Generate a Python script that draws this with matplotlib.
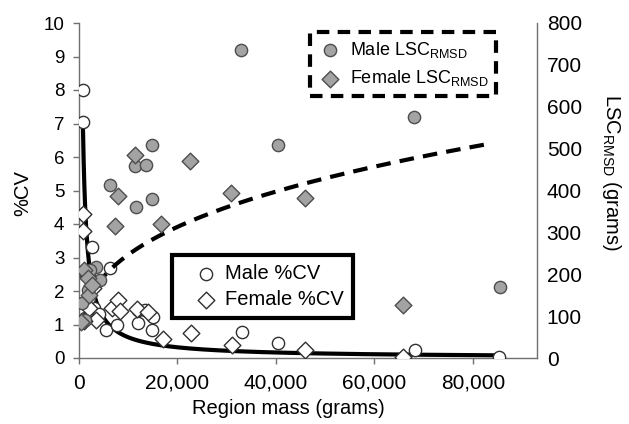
import numpy as np
import matplotlib
matplotlib.use("Agg")
import matplotlib.pyplot as plt
from matplotlib.ticker import FuncFormatter

plt.rcParams["font.family"] = ["Liberation Sans", "DejaVu Sans"]
plt.rcParams["mathtext.fontset"] = "custom"
plt.rcParams["mathtext.rm"] = "Liberation Sans"
plt.rcParams["mathtext.it"] = "Liberation Sans"

# %CV (left axis)
male_cv_mass = [900, 900, 2600, 6300, 5500, 12000, 13400, 15000, 12000, 14800,
                33000, 40400, 68300, 85200, 3000, 4000, 2000, 1200, 7800]
male_cv = [8.0, 7.05, 3.3, 2.7, 0.84, 1.43, 1.43, 1.22, 1.04, 0.84,
           0.78, 0.45, 0.24, 0.03, 1.5, 1.3, 1.8, 1.2, 1.0]
female_cv_mass = [900, 900, 1800, 2000, 3400, 6700, 7900, 8300, 11700, 14000,
                  17000, 22700, 31000, 45800, 65700, 1000, 2800]
female_cv = [4.3, 3.8, 2.45, 1.49, 1.13, 1.49, 1.73, 1.4, 1.46, 1.37,
             0.57, 0.75, 0.39, 0.24, 0.03, 1.1, 2.1]

# LSC_RMSD in grams (right axis)
male_lsc_mass = [32900, 14800, 11400, 13600, 6300, 11600, 14800, 40400, 68100, 85400,
                 3400, 4300, 1800, 600, 2200, 1200]
male_lsc = [736, 509, 458, 461, 413, 361, 380, 509, 576, 170,
            217, 186, 162, 131, 210, 91]
female_lsc_mass = [11400, 22500, 7900, 7300, 16600, 30800, 45800, 65700,
                   1000, 1800, 2000, 400, 2600]
female_lsc = [485, 470, 387, 315, 320, 394, 382, 127, 210, 191, 150, 86, 174]

# power trendlines y = a * x^b
cv_fit = (4085, -0.955, 800, 85000)
lsc_fit = (10.38, 0.344, 250, 84000)

W, H = 629, 424
fig = plt.figure(figsize=(W / 100, H / 100), dpi=100)
ax = fig.add_axes([79 / W, 1 - 358 / H, 458 / W, 335 / H])
ax2 = ax.twinx()

gray = "#a3a3a3"
edge = "#4d4d4d"
ring = "#303030"

a, b, x0, x1 = cv_fit
xs = np.linspace(x0, x1, 600)
ax.plot(xs, a * xs ** b, color="black", lw=3, zorder=2)
a, b, x0, x1 = lsc_fit
xs = np.linspace(x0, x1, 600)
ax2.plot(xs, a * xs ** b, color="black", lw=3, ls=(0, (3.5, 2.2)), zorder=2)

s_o, s_d = 78, 72
h_mcv = ax.scatter(male_cv_mass, male_cv, s=s_o, marker="o", facecolor="white",
                   edgecolor=ring, lw=1, zorder=3, label="Male %CV")
h_fcv = ax.scatter(female_cv_mass, female_cv, s=s_d, marker="D", facecolor="white",
                   edgecolor=ring, lw=1, zorder=3, label="Female %CV")
h_mlsc = ax2.scatter(male_lsc_mass, male_lsc, s=s_o, marker="o", facecolor=gray,
                     edgecolor=edge, lw=1, zorder=3, label=r"Male LSC$_{\mathrm{RMSD}}$")
h_flsc = ax2.scatter(female_lsc_mass, female_lsc, s=s_d, marker="D", facecolor=gray,
                     edgecolor=edge, lw=1, zorder=3, label=r"Female LSC$_{\mathrm{RMSD}}$")

ax.set_xlim(0, 93000)
ax.set_ylim(0, 10)
ax2.set_ylim(0, 800)
ax.set_xticks([0, 20000, 40000, 60000, 80000])
ax.xaxis.set_major_formatter(FuncFormatter(lambda v, p: f"{v:,.0f}"))
ax.set_yticks(range(0, 11))
ax2.set_yticks(range(0, 801, 100))

for a_ in (ax, ax2):
    a_.spines["top"].set_visible(False)
    for s in ("left", "right", "bottom"):
        a_.spines[s].set_color("#707070")
        a_.spines[s].set_linewidth(1)
ax.spines["right"].set_visible(False)
ax2.spines["left"].set_visible(False)
ax2.spines["bottom"].set_visible(False)
ax.tick_params(axis="y", length=4.5, width=1, color="#707070", labelsize=13.5, pad=6)
ax.tick_params(axis="x", length=4.5, width=1, color="#707070", labelsize=15, pad=7)
ax2.tick_params(axis="y", length=0, labelsize=15, pad=7)

fig.text(288 / W, 1 - 409 / H, "Region mass (grams)", fontsize=14.5, ha="center", va="center")
fig.text(23 / W, 1 - 193 / H, "%CV", fontsize=14.5, rotation=90, ha="center", va="center")
fig.text(612 / W, 1 - 172 / H, r"LSC$_{\mathrm{RMSD}}$ (grams)", fontsize=14.5,
         rotation=270, ha="center", va="center")

leg1 = ax2.legend(handles=[h_mlsc, h_flsc], loc="upper left", bbox_to_anchor=(0.504, 0.973),
                  borderaxespad=0, fontsize=13, fancybox=False, framealpha=1,
                  handletextpad=0.4, handlelength=1.35, borderpad=0.45, labelspacing=0.45)
fr = leg1.get_frame()
fr.set_edgecolor("black")
fr.set_linewidth(3)
fr.set_linestyle((0, (3, 2)))

leg2 = ax2.legend(handles=[h_mcv, h_fcv], loc="upper left", bbox_to_anchor=(0.203, 0.307),
                  borderaxespad=0, fontsize=14.5, fancybox=False, framealpha=1,
                  handletextpad=-0.3, handlelength=2.5, borderpad=0.45, labelspacing=0.35)
fr = leg2.get_frame()
fr.set_edgecolor("black")
fr.set_linewidth(3)
ax2.add_artist(leg1)

fig.savefig("out.png", dpi=100)
